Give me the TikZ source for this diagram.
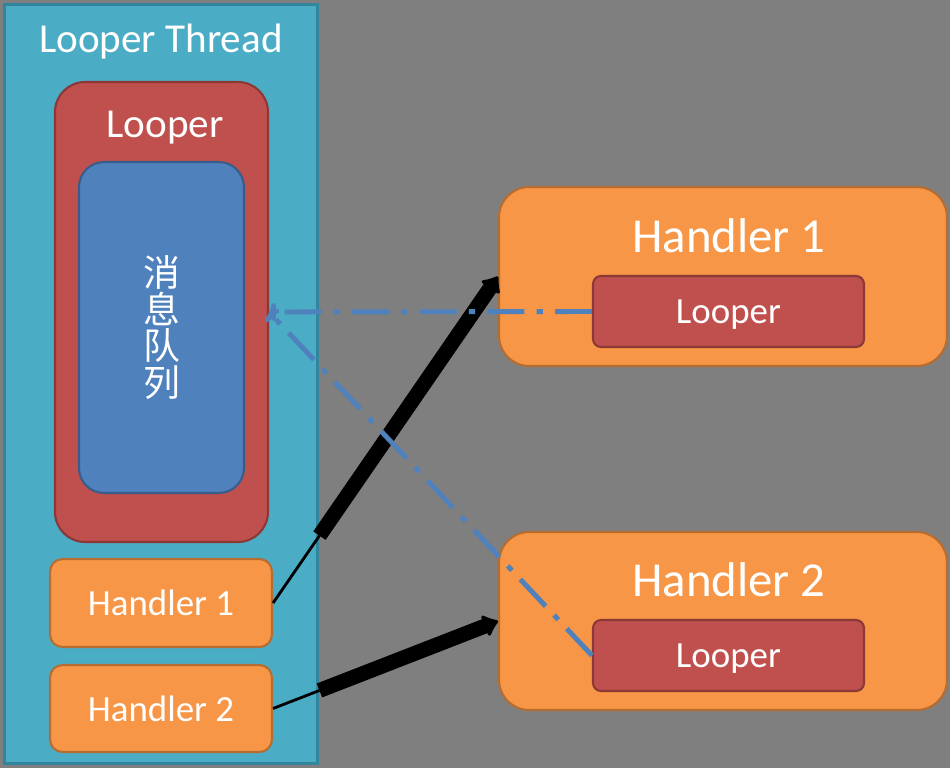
\documentclass[tikz,border=0pt]{standalone}
\usepackage{fontspec}
\setmainfont{Carlito}
\newfontfamily\cjk{Noto Sans CJK SC}
\usetikzlibrary{arrows.meta}
\definecolor{bggray}{HTML}{7F7F7F}
\definecolor{threadfill}{HTML}{4BACC6}
\definecolor{threaddraw}{HTML}{31859C}
\definecolor{looperfill}{HTML}{C0504D}
\definecolor{looperdraw}{HTML}{8C3836}
\definecolor{queuefill}{HTML}{4F81BD}
\definecolor{queuedraw}{HTML}{385D8A}
\definecolor{handlerfill}{HTML}{F79646}
\definecolor{handlerdraw}{HTML}{B66D31}
\tikzset{
  threadbox/.style={fill=threadfill, draw=threaddraw, line width=1.7pt, inner sep=0pt},
  looperbox/.style={fill=looperfill, draw=looperdraw, line width=1.2pt, inner sep=0pt, text=white},
  queuebox/.style={fill=queuefill, draw=queuedraw, line width=1.2pt, inner sep=0pt, text=white},
  handlerbox/.style={fill=handlerfill, draw=handlerdraw, line width=1.2pt, inner sep=0pt, text=white},
  boxtitle/.style={text=white, inner sep=0pt, anchor=base},
  msgline/.style={draw=queuefill, line width=2.8pt, dash pattern=on 21pt off 7pt on 3.5pt off 7pt,
    -{To[length=4pt,width=10pt]}},
  sendline/.style={line width=8.5pt, -{Latex[round,length=9pt,width=16pt]}}
}
\begin{document}
\begin{tikzpicture}[x=0.02cm, y=-0.02cm]
\fill[bggray] (0,0) rectangle (950,768);

% looper thread with its looper and queue
\node[threadbox, minimum width=6.28cm, minimum height=15.2cm] (thread) at (161,384) {};
\node[boxtitle, font=\fontsize{23.4}{28}\selectfont] (threadtitle) at (161,52) {Looper Thread};
\node[looperbox, rounded corners=0.6cm, minimum width=4.26cm, minimum height=9.2cm] (looper) at (161.5,312) {};
\node[boxtitle, font=\fontsize{23.4}{28}\selectfont] (loopertitle) at (165,137) {Looper};
\node[queuebox, rounded corners=0.5cm, minimum width=3.3cm, minimum height=6.62cm, align=center,
  font=\cjk\fontsize{21}{21}\selectfont] (queue) at (161.5,327.5) {消\\息\\队\\列};

% handlers inside the thread
\node[handlerbox, rounded corners=0.25cm, minimum width=4.44cm, minimum height=1.76cm,
  font=\fontsize{21}{25}\selectfont] (h1s) at (161,603) {Handler 1};
\node[handlerbox, rounded corners=0.25cm, minimum width=4.44cm, minimum height=1.74cm,
  font=\fontsize{21}{25}\selectfont] (h2s) at (161,708.5) {Handler 2};

% handlers on the right
\node[handlerbox, rounded corners=0.6cm, minimum width=8.96cm, minimum height=3.58cm] (H1) at (723,276.5) {};
\node[boxtitle, font=\fontsize{27.8}{33}\selectfont] (H1title) at (729,252) {Handler 1};
\node[looperbox, rounded corners=0.16cm, minimum width=5.42cm, minimum height=1.42cm, text depth=0pt,
  font=\fontsize{21}{25}\selectfont] (L1) at (728.5,311.5) {Looper};
\node[handlerbox, rounded corners=0.6cm, minimum width=8.96cm, minimum height=3.56cm] (H2) at (723,621) {};
\node[boxtitle, font=\fontsize{27.8}{33}\selectfont] (H2title) at (729,596) {Handler 2};
\node[looperbox, rounded corners=0.16cm, minimum width=5.42cm, minimum height=1.42cm, text depth=0pt,
  font=\fontsize{21}{25}\selectfont] (L2) at (728.5,655.5) {Looper};

% handler to handler
\coordinate (c1) at (intersection of h1s.east--H1.west and thread.north east--thread.south east);
\coordinate (c2) at (intersection of h2s.east--H2.west and thread.north east--thread.south east);
\draw[line width=1.6pt] (h1s.east) -- (c1);
\draw[line width=1.6pt] (h2s.east) -- (c2);
\draw[sendline] (c1) -- (H1.west);
\draw[sendline] (c2) -- (H2.west);

% loopers point back to the thread's looper
\draw[msgline] (L1.west) -- (looper.east);
\draw[msgline] (L2.west) -- (looper.east);
\end{tikzpicture}
\end{document}
